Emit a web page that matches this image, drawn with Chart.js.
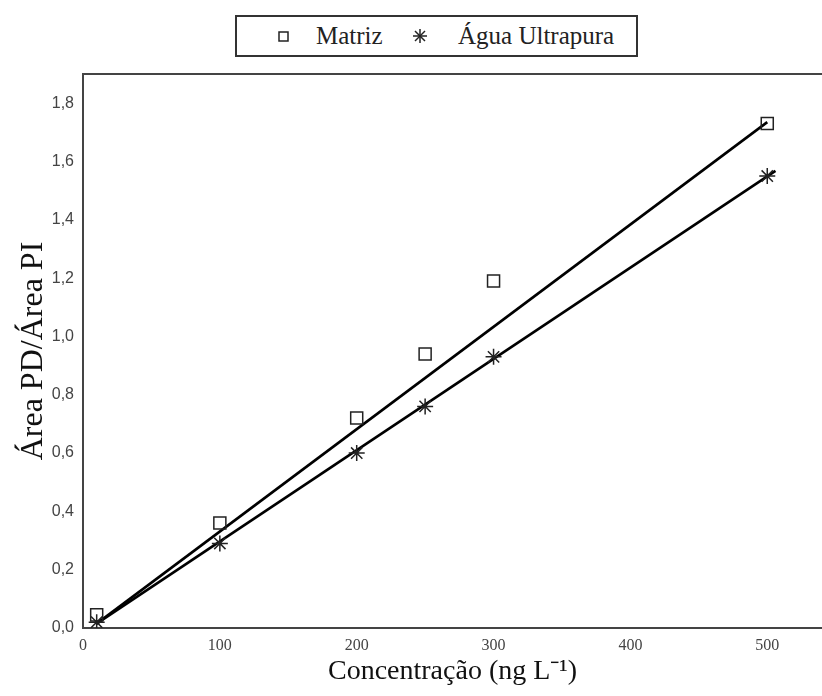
<!DOCTYPE html>
<html lang="pt">
<head>
    <meta charset="UTF-8">
    <title>Curva analítica - Matriz x Água Ultrapura</title>
    <script src="https://cdn.jsdelivr.net/npm/chart.js"></script>
    <style>
        body { margin: 0; background: #fff; }
        /* o gráfico continua além da borda direita */
        #wrap { position: relative; width: 822px; height: 696px; overflow: hidden; }
        #curvaChart { display: block; }
        #legenda {
            position: absolute; left: 235px; top: 15px; width: 399px; height: 38px;
            border: 2px solid #333; background: #fff;
            font-family: "Liberation Serif", "Times New Roman", serif; font-size: 25px; color: #222;
        }
        #legenda span { position: absolute; top: 0; line-height: 38px; white-space: nowrap; }
        #legenda svg { position: absolute; }
    </style>
</head>
<body>
    <div id="wrap">
        <canvas id="curvaChart" width="832" height="696"></canvas>
        <div id="legenda">
            <svg style="left:41px; top:14px" width="11" height="11"><rect x="1" y="1" width="9" height="9" fill="none" stroke="#222" stroke-width="1.5"/></svg>
            <span style="left:79px">Matriz</span>
            <svg style="left:175px; top:11px" width="16" height="16">
                <g stroke="#222" stroke-width="1.5">
                    <line x1="8" y1="1" x2="8" y2="15"/><line x1="1" y1="8" x2="15" y2="8"/>
                    <line x1="3" y1="3" x2="13" y2="13"/><line x1="13" y1="3" x2="3" y2="13"/>
                </g>
            </svg>
            <span style="left:221px">Água Ultrapura</span>
        </div>
    </div>

    <script>
        // Concentrações (ng/L) e razões de área
        const concentracoes = [10, 100, 200, 250, 300, 500];
        const matriz = [0.045, 0.36, 0.72, 0.94, 1.19, 1.73];
        const aguaUltrapura = [0.02, 0.29, 0.60, 0.76, 0.93, 1.55];

        // Extremos das retas de regressão
        const retaMatrizX = [10, 500];
        const retaMatrizY = [0.015, 1.735];
        const retaAguaX = [10, 506];
        const retaAguaY = [0.015, 1.568];

        const ticksX = [0, 100, 200, 300, 400, 500];
        const ticksY = [0, 0.2, 0.4, 0.6, 0.8, 1.0, 1.2, 1.4, 1.6, 1.8];

        const pontos = (xs, ys) => xs.map((x, i) => ({ x: x, y: ys[i] }));

        // Linha superior da moldura
        const molduraTopo = {
            id: 'molduraTopo',
            afterDraw(chart) {
                const { ctx, chartArea } = chart;
                ctx.save();
                ctx.strokeStyle = '#444';
                ctx.lineWidth = 2;
                ctx.beginPath();
                ctx.moveTo(chartArea.left, chartArea.top);
                ctx.lineTo(chartArea.right, chartArea.top);
                ctx.stroke();
                ctx.restore();
            }
        };

        new Chart(document.getElementById('curvaChart'), {
            type: 'scatter',
            data: {
                datasets: [
                    {
                        label: 'Matriz',
                        data: pontos(concentracoes, matriz),
                        pointStyle: 'rect',
                        radius: 8.5,
                        borderColor: '#222',
                        borderWidth: 1.5,
                        backgroundColor: 'rgba(0,0,0,0)'
                    },
                    {
                        label: 'Água Ultrapura',
                        data: pontos(concentracoes, aguaUltrapura),
                        pointStyle: 'star',
                        radius: 8,
                        borderColor: '#222',
                        borderWidth: 1.5
                    },
                    {
                        label: 'Ajuste Matriz',
                        data: pontos(retaMatrizX, retaMatrizY),
                        showLine: true,
                        pointRadius: 0,
                        borderColor: '#000',
                        borderWidth: 2.6
                    },
                    {
                        label: 'Ajuste Água',
                        data: pontos(retaAguaX, retaAguaY),
                        showLine: true,
                        pointRadius: 0,
                        borderColor: '#000',
                        borderWidth: 2.6
                    }
                ]
            },
            options: {
                responsive: false,
                animation: false,
                devicePixelRatio: 1,
                layout: { padding: { top: 74, right: 0, left: 0, bottom: 0 } },
                plugins: {
                    legend: { display: false },
                    tooltip: { enabled: false }
                },
                scales: {
                    x: {
                        type: 'linear',
                        min: 0,
                        max: 540,
                        afterBuildTicks: s => { s.ticks = ticksX.map(v => ({ value: v })); },
                        afterFit: s => { s.height = 68; s.paddingLeft = 0; s.paddingRight = 0; },
                        grid: { display: false, drawTicks: false },
                        border: { color: '#444', width: 2 },
                        ticks: {
                            padding: 8,
                            color: '#444',
                            font: { family: '"Liberation Serif", serif', size: 16 }
                        },
                        title: {
                            display: true,
                            text: 'Concentração (ng L⁻¹)',
                            color: '#111',
                            padding: { bottom: 8 },
                            font: { family: '"Liberation Serif", serif', size: 28 }
                        }
                    },
                    y: {
                        min: 0,
                        max: 1.9,
                        afterBuildTicks: s => { s.ticks = ticksY.map(v => ({ value: v })); },
                        afterFit: s => { s.width = 83; s.paddingTop = 0; s.paddingBottom = 0; },
                        grid: { display: false, drawTicks: false },
                        border: { color: '#444', width: 2 },
                        ticks: {
                            padding: 9,
                            color: '#444',
                            font: { family: '"Liberation Sans", Arial, sans-serif', size: 16 },
                            callback: v => v.toFixed(1).replace('.', ',')
                        },
                        title: {
                            display: true,
                            text: 'Área PD/Área PI',
                            color: '#111',
                            padding: { top: 14 },
                            font: { family: '"Liberation Serif", serif', size: 32 }
                        }
                    }
                }
            },
            plugins: [molduraTopo]
        });
    </script>
</body>
</html>
